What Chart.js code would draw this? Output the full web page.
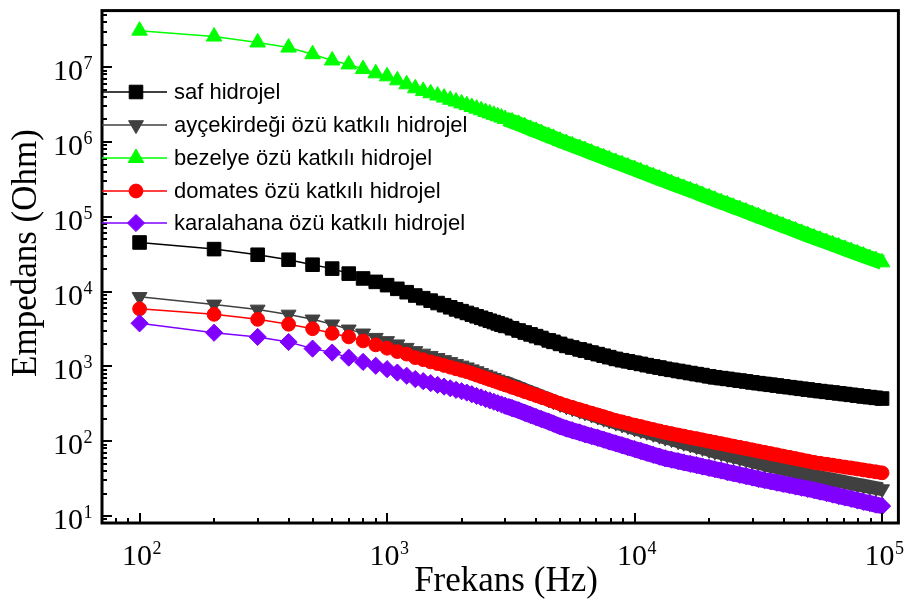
<!DOCTYPE html>
<html>
<head>
<meta charset="utf-8">
<script src="https://cdn.jsdelivr.net/npm/chart.js@4.4.1/dist/chart.umd.min.js"></script>
<style>
  html, body { margin: 0; padding: 0; background: #ffffff; }
  #wrap { width: 909px; height: 604px; position: relative; }
</style>
</head>
<body>
<div id="wrap"><canvas id="c" width="909" height="604"></canvas></div>
<script>
// Measurement frequencies (Hz)
const freq = [100,200,300,400,500,600,700,800,900,1000,
  1100,1200,1300,1400,1500,1600,1700,1800,1900,2000,
  2100,2200,2300,2400,2500,2600,2700,2800,2900,
  3000,3200,3400,3600,3800,4000,4200,4500,4700,5000,
  5300,5600,6000,6300,6700,7100,7500,7900,8400,8900,
  9400,10000,10600,11200,11900,12600,13300,14100,15000,15800,
  16800,17800,18800,20000,21100,22400,23700,25100,26600,28200,
  29900,31600,33500,35500,37600,39800,42200,44700,47300,50100,
  53100,56200,59600,63100,66800,70800,75000,79400,84100,89100,
  94400,100000];

// Impedance (Ohm) of each hydrogel at those frequencies
const safHidrojel = [45400,37000,31100,26700,22900,20300,17400,15000,13500,12200,
  10900,9820,8870,8170,7570,7030,6580,6170,5790,5480,
  5190,4930,4680,4470,4270,4080,3920,3760,3610,
  3480,3240,3020,2840,2680,2540,2400,2230,2130,2000,
  1880,1790,1690,1620,1530,1460,1390,1330,1260,1210,
  1170,1120,1080,1040,1000,966,929,900,869,843,
  815,789,766,738,716,698,681,662,646,630,
  612,597,582,568,555,541,528,515,502,491,
  479,468,457,447,437,427,417,407,398,389,
  380,372];

const aycekirdegi = [8510,6750,5780,4950,4260,3660,3130,2770,2420,2190,
  1980,1780,1610,1490,1390,1300,1220,1150,1080,1030,
  975,918,867,820,778,740,705,671,643,
  615,565,524,485,452,423,397,363,343,316,
  294,277,257,244,228,214,201,190,178,168,
  159,149,141,134,126,119,112,107,100,95.7,
  90.6,85.9,81.7,76.9,73.1,69.5,66.2,63.0,60.0,57.0,
  54.1,51.6,49.1,46.9,44.8,42.8,40.9,39.1,37.3,35.6,
  34.0,32.8,31.7,30.6,29.4,28.4,27.4,26.4,25.5,24.6,
  23.7,22.9];

const bezelye = [3.08e7,2.57e7,2.14e7,1.83e7,1.49e7,1.23e7,1.09e7,9.44e6,8.28e6,7.55e6,
  6.67e6,5.90e6,5.22e6,4.82e6,4.48e6,4.18e6,3.92e6,3.67e6,3.47e6,3.28e6,
  3.11e6,2.94e6,2.79e6,2.65e6,2.52e6,2.41e6,2.31e6,2.21e6,2.12e6,
  2.03e6,1.88e6,1.75e6,1.62e6,1.50e6,1.41e6,1.32e6,1.20e6,1.14e6,1.04e6,
  9.71e5,9.06e5,8.30e5,7.80e5,7.21e5,6.70e5,6.25e5,5.85e5,5.42e5,5.04e5,
  4.70e5,4.35e5,4.04e5,3.77e5,3.48e5,3.24e5,3.03e5,2.81e5,2.60e5,2.44e5,
  2.26e5,2.11e5,1.96e5,1.82e5,1.69e5,1.57e5,1.47e5,1.36e5,1.27e5,1.18e5,
  1.09e5,1.02e5,9.46e4,8.79e4,8.18e4,7.60e4,7.08e4,6.58e4,6.11e4,5.69e4,
  5.28e4,4.93e4,4.60e4,4.29e4,4.00e4,3.73e4,3.48e4,3.25e4,3.03e4,2.82e4,
  2.64e4,2.46e4];

const domates = [5890,4970,4260,3660,3190,2770,2480,2190,1940,1750,
  1580,1460,1310,1230,1150,1090,1030,977,929,887,
  849,807,766,731,697,667,640,614,590,
  568,527,493,462,435,410,388,359,342,318,
  299,283,264,252,237,224,212,201,189,181,
  173,164,157,150,143,137,131,126,121,117,
  112,108,104,100,96.4,92.7,89.3,85.9,82.8,79.6,
  76.6,73.8,71.0,68.2,65.8,63.2,61.0,58.6,56.4,54.3,
  52.2,50.7,49.3,47.9,46.5,45.1,43.9,42.6,41.3,40.1,
  39.0,37.8];

const karalahana = [3770,2820,2480,2120,1730,1530,1310,1150,1020,920,
  828,750,678,635,598,566,537,511,486,466,
  447,425,403,385,366,351,337,323,310,
  299,277,259,240,224,210,198,182,172,158,
  148,140,131,124,117,111,105,99.3,93.5,88.3,
  83.6,78.5,74.1,70.1,65.9,62.4,59.0,56.6,54.1,52.0,
  49.9,47.9,45.9,44.0,42.2,40.5,38.7,37.2,35.6,34.2,
  32.7,31.4,30.1,29.0,27.9,26.9,25.9,24.9,23.9,23.1,
  22.2,21.2,20.3,19.4,18.5,17.7,17.0,16.2,15.5,14.9,
  14.2,13.6];

const seriesNames = ['saf hidrojel', 'ayçekirdeği özü katkılı hidrojel', 'bezelye özü katkılı hidrojel',
  'domates özü katkılı hidrojel', 'karalahana özü katkılı hidrojel'];
const seriesValues = [safHidrojel, aycekirdegi, bezelye, domates, karalahana];

// Axis tick labels are powers of ten: 10^exp
const xTickExponents = [2, 3, 4, 5];
const yTickExponents = [1, 2, 3, 4, 5, 6, 7];
const xTitle = 'Frekans (Hz)';
const yTitle = 'Empedans (Ohm)';

// Marker look for each series; "band" is the stroke width used where the
// markers are packed so tightly that they merge into one continuous band.
const styles = [
  { color: '#000000', pointStyle: 'rect',     radius: 9.6, rotation: 0,   order: 5, band: 15 },
  { color: '#404040', pointStyle: 'triangle', radius: 8.6, rotation: 180, order: 4, band: 14 },
  { color: '#00ff00', pointStyle: 'triangle', radius: 9.0, rotation: 0,   order: 3, band: 15 },
  { color: '#ff0000', pointStyle: 'circle',   radius: 6.9, rotation: 0,   order: 2, band: 14 },
  { color: '#8000ff', pointStyle: 'rectRot',  radius: 8.6, rotation: 0,   order: 1, band: 16 }
];
const bandFromFreq = 3000;

const SERIF = '"Liberation Serif", "Times New Roman", serif';
const SANS = '"Liberation Sans", Arial, sans-serif';

const datasets = seriesValues.map((vals, i) => ({
  label: seriesNames[i],
  data: freq.map((f, j) => ({ x: f, y: vals[j] })),
  borderColor: styles[i].color,
  backgroundColor: styles[i].color,
  pointBackgroundColor: styles[i].color,
  pointBorderColor: styles[i].color,
  pointBorderWidth: 1,
  pointStyle: styles[i].pointStyle,
  pointRadius: styles[i].radius,
  pointRotation: styles[i].rotation,
  borderWidth: 1.5,
  borderJoinStyle: 'round',
  segment: {
    borderWidth: ctx => (freq[ctx.p0DataIndex] >= bandFromFreq ? styles[i].band : undefined)
  },
  tension: 0,
  fill: false,
  order: styles[i].order
}));

function drawMarker(ctx, st, x, y) {
  ctx.save();
  ctx.fillStyle = st.color;
  ctx.strokeStyle = st.color;
  ctx.lineWidth = 1;
  Chart.helpers.drawPoint(ctx, { pointStyle: st.pointStyle, radius: st.radius, rotation: st.rotation, borderWidth: 1 }, x, y);
  ctx.restore();
}

function drawPow10(ctx, exp, x, baseline, align) {
  ctx.font = '30px ' + SERIF;
  const wMain = ctx.measureText('10').width;
  ctx.font = '18px ' + SERIF;
  const wSup = ctx.measureText(String(exp)).width;
  const total = wMain + wSup;
  const left = align === 'right' ? x - total : x - total / 2;
  ctx.textAlign = 'left';
  ctx.textBaseline = 'alphabetic';
  ctx.font = '30px ' + SERIF;
  ctx.fillText('10', left, baseline);
  ctx.font = '18px ' + SERIF;
  ctx.fillText(String(exp), left + wMain + 0.5, baseline - 11);
}

const axesPlugin = {
  id: 'axesPlugin',
  afterDraw(chart) {
    const ctx = chart.ctx;
    const a = chart.chartArea;
    const xs = chart.scales.x, ys = chart.scales.y;
    ctx.save();
    ctx.strokeStyle = '#000';
    ctx.fillStyle = '#000';
    ctx.lineCap = 'butt';

    // inward ticks, bottom axis
    ctx.lineWidth = 2;
    for (let n = 1; n <= 5; n++) {
      for (let k = 1; k <= 9; k++) {
        const v = k * Math.pow(10, n);
        if (v <= xs.min || v > xs.max) continue;
        const px = Math.round(xs.getPixelForValue(v));
        const len = k === 1 ? 10 : 5;
        ctx.beginPath();
        ctx.moveTo(px, a.bottom);
        ctx.lineTo(px, a.bottom - len);
        ctx.stroke();
      }
    }
    // inward ticks, left axis
    for (let n = 0; n <= 7; n++) {
      for (let k = 1; k <= 9; k++) {
        const v = k * Math.pow(10, n);
        if (v <= ys.min || v >= ys.max) continue;
        const py = Math.round(ys.getPixelForValue(v));
        const len = k === 1 ? 10 : 5;
        ctx.beginPath();
        ctx.moveTo(a.left, py);
        ctx.lineTo(a.left + len, py);
        ctx.stroke();
      }
    }

    // frame
    ctx.lineWidth = 3;
    ctx.strokeRect(a.left, a.top, a.right - a.left, a.bottom - a.top);

    // tick labels
    xTickExponents.forEach(e => {
      const px = xs.getPixelForValue(Math.pow(10, e));
      drawPow10(ctx, e, px + 2, a.bottom + 42, 'center');
    });
    yTickExponents.forEach(e => {
      const py = ys.getPixelForValue(Math.pow(10, e));
      drawPow10(ctx, e, a.left - 10, py + 13, 'right');
    });

    // axis titles
    ctx.font = '35px ' + SERIF;
    ctx.textAlign = 'center';
    ctx.textBaseline = 'alphabetic';
    ctx.fillText(xTitle, 506, 591);
    ctx.save();
    ctx.translate(36, 253);
    ctx.rotate(-Math.PI / 2);
    ctx.fillText(yTitle, 0, 0);
    ctx.restore();

    // legend inside the plot
    const rowY = [92, 125, 158, 191, 223];
    seriesNames.forEach((name, i) => {
      const st = styles[i];
      const y = rowY[i];
      ctx.strokeStyle = st.color;
      ctx.lineWidth = 1.5;
      ctx.beginPath();
      ctx.moveTo(a.left, y);
      ctx.lineTo(a.left + 65, y);
      ctx.stroke();
      drawMarker(ctx, st, a.left + 34, y);
      ctx.fillStyle = '#000';
      ctx.font = '22px ' + SANS;
      ctx.textAlign = 'left';
      ctx.textBaseline = 'middle';
      ctx.fillText(name, a.left + 72, y + 1);
    });
    ctx.restore();
  }
};

new Chart(document.getElementById('c'), {
  type: 'line',
  data: { datasets },
  options: {
    responsive: false,
    animation: false,
    events: [],
    devicePixelRatio: 1,
    layout: { padding: { left: 102, right: 4, top: 7, bottom: 81 } },
    plugins: { legend: { display: false }, tooltip: { enabled: false } },
    scales: {
      x: { type: 'logarithmic', display: false, min: 70.5, max: 116400 },
      y: { type: 'logarithmic', display: false, min: 8.07, max: 5.71e7 }
    }
  },
  plugins: [axesPlugin]
});
</script>
</body>
</html>
